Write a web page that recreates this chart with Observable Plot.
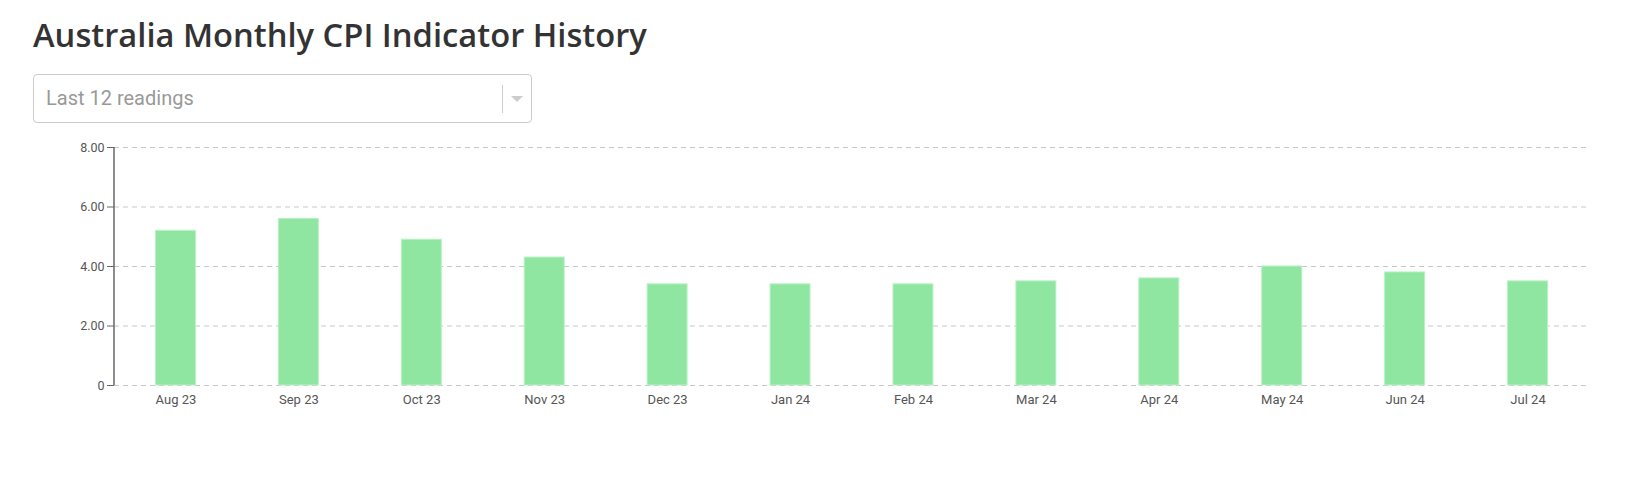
<!DOCTYPE html>
<html>
<head>
<meta charset="utf-8">
<script src="https://cdn.jsdelivr.net/npm/d3@7"></script>
<script src="https://cdn.jsdelivr.net/npm/@observablehq/plot@0.6"></script>
<style>
  html, body { margin: 0; padding: 0; background: #fff; width: 1629px; height: 483px; overflow: hidden; }
  #title { position: absolute; left: 33px; top: 12px; font-family: "Open Sans", sans-serif; font-weight: 600; font-size: 32.7px; color: #333; white-space: nowrap; }
  #select { position: absolute; left: 33px; top: 74px; width: 497px; height: 47px; border: 1px solid #ccc; border-radius: 4px; box-sizing: content-box; }
  #select .txt { position: absolute; left: 12px; top: 0; line-height: 47px; font-family: Roboto, sans-serif; font-size: 20px; color: #999; }
  #select .sep { position: absolute; left: 468px; top: 10px; width: 1px; height: 28px; background: #ccc; }
  #select .arrow { position: absolute; left: 477px; top: 21px; width: 0; height: 0; border-left: 6px solid transparent; border-right: 6px solid transparent; border-top: 6px solid #ccc; }
  #chart { position: absolute; left: 0; top: 130px; }
</style>
</head>
<body>
<div id="title">Australia Monthly CPI Indicator History</div>
<div id="select"><span class="txt">Last 12 readings</span><span class="sep"></span><span class="arrow"></span></div>
<div id="chart"></div>
<script>
const months = ["Aug 23","Sep 23","Oct 23","Nov 23","Dec 23","Jan 24","Feb 24","Mar 24","Apr 24","May 24","Jun 24","Jul 24"];
const cpi = [5.2, 5.6, 4.9, 4.3, 3.4, 3.4, 3.4, 3.5, 3.6, 4.0, 3.8, 3.5];
const yTicks = [0, 2, 4, 6, 8];

const data = months.map((m, i) => ({month: m, value: cpi[i]}));

const yAxisLine = (index, scales, values, dimensions) => {
  const ns = "http://www.w3.org/2000/svg";
  const line = document.createElementNS(ns, "line");
  const x = dimensions.marginLeft;
  line.setAttribute("x1", x);
  line.setAttribute("x2", x);
  line.setAttribute("y1", scales.y(yTicks[yTicks.length - 1]));
  line.setAttribute("y2", scales.y(0));
  line.setAttribute("stroke", "#666");
  line.setAttribute("stroke-width", 1.5);
  return line;
};

const chart = Plot.plot({
  width: 1629,
  height: 290,
  marginTop: 17,
  marginBottom: 35,
  marginLeft: 114,
  marginRight: 40,
  style: {fontFamily: "Roboto, sans-serif", fontSize: "12.5px", color: "#555", background: "transparent"},
  x: {type: "band", domain: months, paddingInner: 0.675, paddingOuter: 0.3375, round: false, label: null},
  y: {domain: [0, 8], label: null},
  marks: [
    Plot.ruleY(yTicks, {stroke: "#c8c8c8", strokeDasharray: "5,4", strokeWidth: 1}),
    Plot.barY(data, {x: "month", y: "value", fill: "#8ee6a0", stroke: "#b9f0c5", strokeWidth: 1}),
    Plot.axisY({ticks: yTicks, tickSize: 7, tickPadding: 3, tickFormat: d => d === 0 ? "0" : d.toFixed(2), stroke: "#666", fill: "#555", label: null}),
    Plot.axisX({tickSize: 0, tickPadding: 9, fill: "#555", fontSize: 13, label: null}),
    yAxisLine
  ]
});
document.getElementById("chart").appendChild(chart);
</script>
</body>
</html>
